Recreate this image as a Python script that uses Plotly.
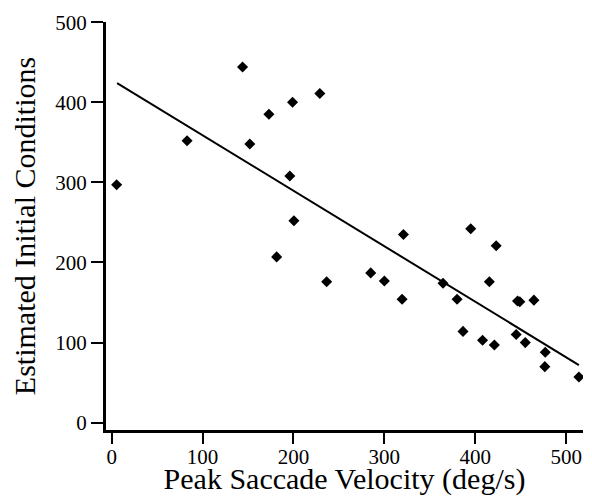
import plotly.graph_objects as go

# Scatter data
velocity = [5.5, 83, 144, 152, 173, 199, 196, 200.5, 229, 181.5, 236.5, 285, 300, 319.5,
            321, 364.5, 380, 386.5, 395, 408, 415.5, 421, 423, 445, 446.5, 449, 455,
            464.5, 476.5, 477, 514]
initial = [297, 352, 444, 348, 385, 400, 308, 252, 411, 207, 176, 187, 177, 154,
           235, 174, 154, 114, 242, 103, 176, 97, 221, 110, 152, 151, 100,
           153, 70, 88, 57]

# Fitted line end points
fit_x = [6, 514]
fit_y = [424, 72]

x_ticks = [0, 100, 200, 300, 400, 500]
y_ticks = [0, 100, 200, 300, 400, 500]

FONT = "Liberation Serif, Times New Roman, serif"

fig = go.Figure()
fig.add_trace(go.Scatter(x=fit_x, y=fit_y, mode="lines",
                         line=dict(color="black", width=2), showlegend=False))
fig.add_trace(go.Scatter(x=velocity, y=initial, mode="markers",
                         marker=dict(symbol="diamond", size=8.5, color="black",
                                     line=dict(width=0)),
                         showlegend=False))

# the page body has an 8px default margin, so the figure is sized to fit the window
fig.update_layout(
    width=584, height=488,
    margin=dict(l=98, r=9, t=14, b=66),
    paper_bgcolor="white", plot_bgcolor="white",
    font=dict(family=FONT, color="black", size=21),
    xaxis=dict(range=[-6.2, 518.5], tickvals=x_ticks, ticks="outside", ticklen=11,
               tickwidth=1.5, tickcolor="black", showline=True, linecolor="black",
               linewidth=3, showgrid=False, zeroline=False, automargin=False,
               ticklabelstandoff=-5,
               tickfont=dict(size=21, family=FONT),
               title=dict(text="Peak Saccade Velocity (deg/s)",
                          font=dict(size=30, family=FONT), standoff=2)),
    yaxis=dict(range=[-9.1, 500.2], tickvals=y_ticks, ticks="outside", ticklen=12,
               tickwidth=1.5, tickcolor="black", showline=True, linecolor="black",
               linewidth=3, showgrid=False, zeroline=False, automargin=False,
               tickfont=dict(size=21, family=FONT),
               title=dict(text="Estimated Initial Conditions",
                          font=dict(size=30, family=FONT), standoff=12)),
)

fig.write_html("out.html")
